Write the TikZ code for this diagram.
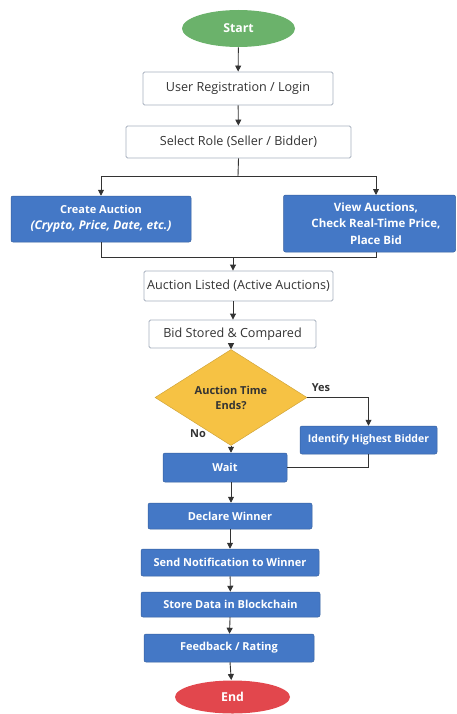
\documentclass[tikz,border=0pt]{standalone}
\usepackage{fontspec}
\setmainfont{Open Sans}
\usetikzlibrary{positioning}
\usetikzlibrary{arrows.meta}
\usetikzlibrary{shapes.geometric}
\definecolor{startgreen}{HTML}{6BB26B}
\definecolor{stepblue}{HTML}{4478C6}
\definecolor{askyellow}{HTML}{F6C244}
\definecolor{endred}{HTML}{E2474D}
\definecolor{boxline}{HTML}{A7B0BE}
\definecolor{ink}{HTML}{333333}
\tikzset{
	every node/.style={align=center,inner sep=0pt,font=\fontsize{11}{15}\selectfont},
	every path/.style={line width=0.9pt,color=ink},
	plainbox/.style={draw=boxline,fill=white,rounded corners=1.5pt,text=ink,font=\fontsize{12.6}{15}\selectfont},
	bluebox/.style={fill=stepblue,draw=stepblue!80!black,line width=0.5pt,rounded corners=2pt,text=white,font=\fontsize{11}{16.5}\selectfont\bfseries},
	terminal/.style={ellipse,text=white,font=\fontsize{12.3}{15}\selectfont\bfseries},
	question/.style={diamond,fill=askyellow,draw=askyellow!85!black,line width=0.5pt,text=ink,font=\fontsize{11}{15}\selectfont\bfseries},
	flow/.style={-{Triangle[length=6pt,width=6pt]}},
}

\begin{document}
\begin{tikzpicture}[x=1pt,y=-1pt]
			\useasboundingbox (0,0) rectangle (456,714);

			% start / end..............................
			\node [terminal,fill=startgreen,minimum width=113,minimum height=37] (start) at (238.5,28.5) {Start};
			\node [terminal,fill=endred,minimum width=115,minimum height=33] (end) at (232.5,697) {End};

			% entry steps..............................
			\node [plainbox,minimum width=190,minimum height=33] (login) at (238,88.5) {User Registration / Login};
			\node [plainbox,minimum width=225,minimum height=32] (role) at (238.5,142) {Select Role (Seller / Bidder)};

			% the two roles.............................
			\node [bluebox,minimum width=180,minimum height=46] (create) at (101,219) {Create Auction\\{\fontsize{12}{16.5}\selectfont\itshape (Crypto, Price, Date, etc.)}};
			\node [bluebox,minimum width=172,minimum height=57,font=\fontsize{11.5}{16.5}\selectfont\bfseries] (view) at (369.5,223.5) {\hspace*{13pt}View Auctions,\\\hspace*{13pt}Check Real-Time Price,\\\hspace*{13pt}Place Bid};

			% listing and bids..........................
			\node [plainbox,minimum width=189,minimum height=30] (listed) at (238.5,286) {Auction Listed (Active Auctions)};
			\node [plainbox,minimum width=167,minimum height=28] (bid) at (232.5,334) {Bid Stored \& Compared};

			% decision.................................
			\node [question,minimum width=152,minimum height=59] (decide) at (231,397.5) {Auction Time\\Ends?};
			\node [bluebox,minimum width=137,minimum height=28,font=\fontsize{10.5}{15}\selectfont\bfseries] (identify) at (368.5,440) {Identify Highest Bidder};
			\node [bluebox,minimum width=124,minimum height=29] (wait) at (225,467.5) {Wait};
			\node [font=\fontsize{11}{15}\selectfont\bfseries,text=ink] (yes) at (321,388) {Yes};
			\node [font=\fontsize{11}{15}\selectfont\bfseries,text=ink] (no) at (198,434) {No};

			% closing steps............................
			\node [bluebox,minimum width=164,minimum height=26] (declare) at (230,516) {Declare Winner};
			\node [bluebox,minimum width=178,minimum height=27] (notify) at (230,562.5) {Send Notification to Winner};
			\node [bluebox,minimum width=179,minimum height=25] (store) at (230.5,604.5) {Store Data in Blockchain};
			\node [bluebox,minimum width=170,minimum height=28] (rating) at (229,648) {Feedback / Rating};

			% junction points..........................
			\coordinate (split) at (238,176);
			\coordinate (merge) at (233,257);
			\coordinate (viewtop) at (376,195);
			\coordinate (viewbot) at (376,252);

			% connectors...............................
			\draw [flow] (start) -- (login);
			\draw [flow] (login) -- (role);
			\draw (role.south) -- (split);
			\draw [flow] (split) -| (create.north);
			\draw [flow] (split) -| (viewtop);
			\draw (create.south) |- (merge);
			\draw (merge) -| (viewbot);
			\draw [flow] (merge) -- (merge |- listed.north);
			\draw [flow] (listed.south -| merge) -- (merge |- bid.north);
			\draw [flow] (bid.south -| decide) -- (decide.north);
			\draw [flow] (decide.east) -| (identify.north);
			\draw [flow] (decide.south) -- (decide.south |- wait.north);
			\draw (identify.south) |- (wait.east);
			\draw [flow] (wait.south -| decide) -- (decide |- declare.north);
			\draw [flow] (declare) -- (notify);
			\draw [flow] (notify) -- (store);
			\draw [flow] (store) -- (rating);
			\draw [flow] (rating) -- (end);

		\end{tikzpicture}
\end{document}
